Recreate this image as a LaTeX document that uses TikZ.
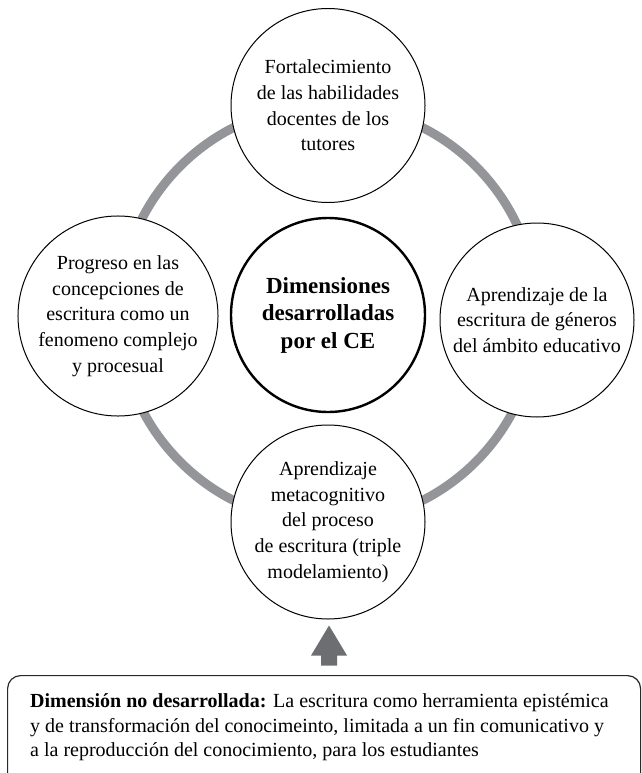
\documentclass[tikz,border=0pt]{standalone}
\usepackage{fontspec}
\setmainfont{Liberation Serif}
\usetikzlibrary{calc}
\definecolor{ringgray}{RGB}{147,149,152}
\definecolor{arrowgray}{RGB}{109,110,113}
\definecolor{boxcol}{RGB}{40,40,40}
\begin{document}
\begin{tikzpicture}[x=1pt,y=-1pt,
  ring/.style={draw=ringgray, line width=9pt},
  outer/.style={circle, draw=black, line width=1pt, fill=white, minimum size=194pt, inner sep=0pt, align=center, font=\fontsize{20}{25.7}\selectfont},
  centre/.style={circle, draw=black, line width=2.4pt, fill=white, minimum size=194pt, inner sep=0pt, align=center, font=\fontsize{23}{27.5}\selectfont\bfseries},
  boxline/.style={anchor=base west, inner sep=0pt, font=\fontsize{20}{24.5}\selectfont},
  notebox/.style={draw=boxcol, line width=1.2pt, rounded corners=13pt, anchor=north west, inner sep=0pt, minimum width=633pt, minimum height=200pt}
]
\useasboundingbox (0,0) rectangle (641,773);
\clip (0,0) rectangle (641,773);
\coordinate (ringc) at (328,314);
\draw[ring] (ringc) circle[radius=209pt];
\node[outer] (top) at (328,105.5) {Fortalecimiento\\de las habilidades\\docentes de los\\tutores};
\node[outer] (left) at (118,316) {Progreso en las\\concepciones de\\escritura como un\\fenomeno complejo\\y procesual};
\node[outer] (right) at (537,320) {Aprendizaje de la\\escritura de géneros\\del ámbito educativo};
\node[outer] (bot) at (328,522) {Aprendizaje\\metacognitivo\\del proceso\\de escritura (triple\\modelamiento)};
\node[centre] (mid) at (328,315) {Dimensiones\\desarrolladas\\por el CE};
\fill[arrowgray] ($(bot.south)+(1,6)$) -- ++(18,30) -- ++(-10,0) -- ++(0,10) -- ++(-16,0) -- ++(0,-10) -- ++(-10,0) -- cycle;
\node[notebox] (box) at (7,675) {};
\node[boxline] (t1) at (30,707) {\textbf{Dimensión no desarrollada:} La escritura como herramienta epistémica};
\node[boxline] (t2) at (30,732) {y de transformación del conocimeinto, limitada a un fin comunicativo y};
\node[boxline] (t3) at (30,756) {a la reproducción del conocimiento, para los estudiantes};
\end{tikzpicture}
\end{document}
